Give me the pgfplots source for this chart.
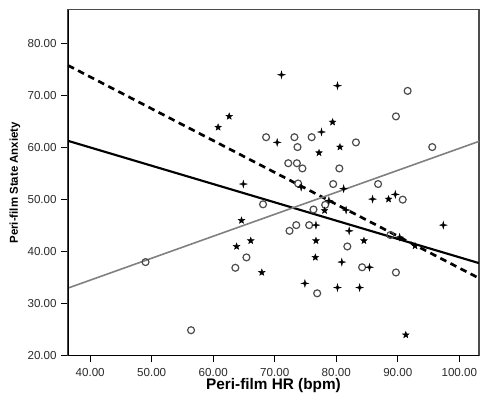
\documentclass[border=0pt]{standalone}
\usepackage{fontspec}
\setmainfont{Liberation Sans}
\usepackage{pgfplots}
\pgfplotsset{compat=1.18}
\pgfdeclareplotmark{fstar}{%
  \pgfpathmoveto{\pgfpointpolar{90}{\pgfplotmarksize}}%
  \pgfpathlineto{\pgfpointpolar{126}{0.42\pgfplotmarksize}}%
  \pgfpathlineto{\pgfpointpolar{162}{\pgfplotmarksize}}%
  \pgfpathlineto{\pgfpointpolar{198}{0.42\pgfplotmarksize}}%
  \pgfpathlineto{\pgfpointpolar{234}{\pgfplotmarksize}}%
  \pgfpathlineto{\pgfpointpolar{270}{0.42\pgfplotmarksize}}%
  \pgfpathlineto{\pgfpointpolar{306}{\pgfplotmarksize}}%
  \pgfpathlineto{\pgfpointpolar{342}{0.42\pgfplotmarksize}}%
  \pgfpathlineto{\pgfpointpolar{18}{\pgfplotmarksize}}%
  \pgfpathlineto{\pgfpointpolar{54}{0.42\pgfplotmarksize}}%
  \pgfpathclose\pgfusepathqfillstroke}
\pgfdeclareplotmark{fourstar}{%
  \pgfpathmoveto{\pgfpointpolar{0}{\pgfplotmarksize}}%
  \pgfpathlineto{\pgfpointpolar{45}{0.3\pgfplotmarksize}}%
  \pgfpathlineto{\pgfpointpolar{90}{\pgfplotmarksize}}%
  \pgfpathlineto{\pgfpointpolar{135}{0.3\pgfplotmarksize}}%
  \pgfpathlineto{\pgfpointpolar{180}{\pgfplotmarksize}}%
  \pgfpathlineto{\pgfpointpolar{225}{0.3\pgfplotmarksize}}%
  \pgfpathlineto{\pgfpointpolar{270}{\pgfplotmarksize}}%
  \pgfpathlineto{\pgfpointpolar{315}{0.3\pgfplotmarksize}}%
  \pgfpathclose\pgfusepathqfillstroke}
\definecolor{tickgray}{HTML}{2A2A2A}
\begin{document}
\begin{tikzpicture}
\begin{axis}[
  scale only axis,
  width=308.25pt, height=259.5pt,
  xmin=36.4, xmax=103.2, ymin=20, ymax=86.5,
  xtick={40,50,...,100}, ytick={20,30,...,80},
  xtick pos=left, ytick pos=left,
  tick align=outside, major tick length=5pt,
  tick style={black, line width=0.9pt},
  axis line style={draw=black!70, line width=1pt},
  /pgf/number format/assume math mode=true,
  /pgf/number format/.cd, fixed, fixed zerofill, precision=2, /pgfplots/.cd,
  ticklabel style={font=\fontsize{8.7}{10}\selectfont, text=tickgray},
  xticklabel style={yshift=-1pt},
  xlabel={Peri-film HR (bpm)},
  ylabel={Peri-film State Anxiety},
  every axis x label/.style={at={(axis description cs:0.5,-0.085)},anchor=center,font=\fontsize{11.5}{13}\selectfont\bfseries},
  every axis y label/.style={at={(axis description cs:-0.129,0.5)},rotate=90,anchor=center,font=\fontsize{8.6}{10}\selectfont\bfseries},
  clip=true,
]
% regression lines
\addplot[black, line width=2pt, dash pattern=on 5pt off 3.5pt] coordinates {(36.4,75.8) (103.2,34.9)};
\addplot[black, line width=1.6pt] coordinates {(36.4,61.3) (103.2,37.8)};
\addplot[black!50, line width=1.2pt] coordinates {(36.4,33.0) (103.2,61.2)};
% circles
\addplot[only marks, mark=o, mark size=2.6pt, mark options={draw=black!70, line width=0.9pt, fill=white}] coordinates {
(91.6,70.9) (89.7,66.0) (68.6,62.0) (73.2,62.0) (76.0,62.0) (73.7,60.1) (83.2,61.0) (95.6,60.1)
(72.2,57.0) (73.6,57.0) (74.5,56.0) (80.5,56.0) (73.8,53.1) (79.5,53.0) (86.8,53.0) (90.8,50.0)
(68.1,49.1) (78.2,49.0) (76.3,48.1) (72.4,44.0) (73.5,45.1) (75.6,45.1) (65.4,38.9) (63.6,36.9)
(88.8,43.2) (81.8,41.0) (84.2,37.0) (89.7,36.0) (76.9,32.0) (49.0,38.0) (56.4,24.9)
};
% four-point stars
\addplot[only marks, mark=fourstar, mark size=2.8pt, mark options={draw=black, fill=black, line width=0.3pt}] coordinates {
(71.1,74.0) (80.2,71.9) (77.6,63.0) (70.4,61.0) (64.9,53.0) (81.2,52.1) (89.6,51.0) (85.9,50.1)
(74.9,33.9) (82.1,44.0) (97.4,45.1) (80.9,38.0) (85.4,37.0) (80.2,33.1) (83.8,33.1) (74.3,52.4)
(78.8,49.8) (76.7,45.1) (90.3,42.8) (81.6,48.0)
};
% five-point stars
\addplot[only marks, mark=fstar, mark size=2.6pt, mark options={draw=black, fill=black, line width=0.3pt}] coordinates {
(62.6,66.0) (60.8,63.9) (79.4,64.9) (77.2,59.0) (80.6,60.1) (64.6,46.0) (66.1,42.1) (63.8,41.0)
(76.7,42.1) (76.6,38.9) (67.9,36.0) (88.5,50.1) (84.5,42.1) (91.3,24.0) (92.8,41.1) (78.1,47.9)
};
\draw[black, line width=1.5pt] (rel axis cs:0,1) -- (rel axis cs:0,0) -- (rel axis cs:1,0);
\end{axis}
\pgfresetboundingbox
\path ([shift={(-51pt,-32.5pt)}]current axis.south west) rectangle ([shift={(0.75pt,7.3pt)}]current axis.north east);
\end{tikzpicture}
\end{document}
